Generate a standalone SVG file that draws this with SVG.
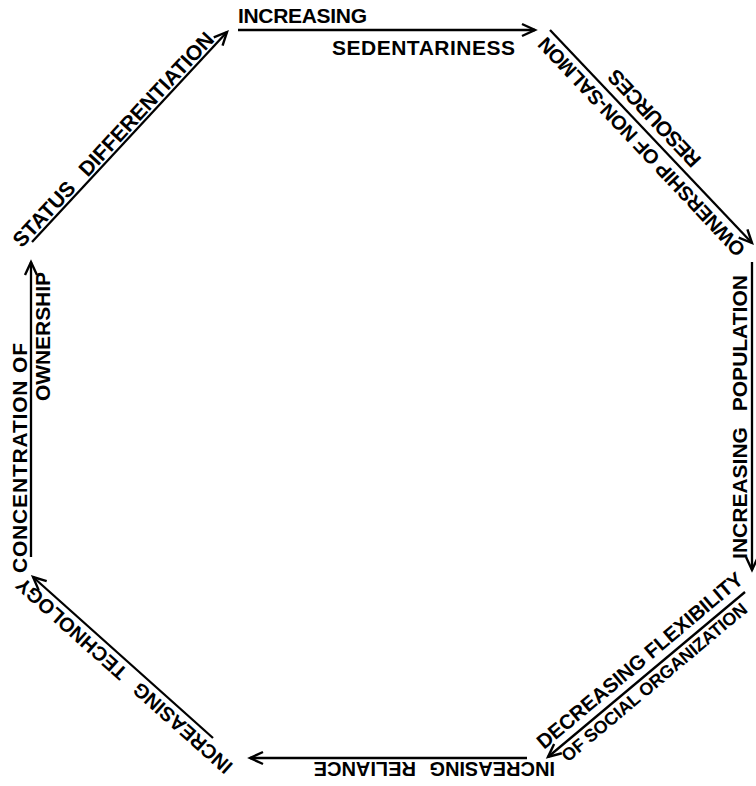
<svg xmlns="http://www.w3.org/2000/svg" width="756" height="786" viewBox="0 0 756 786">
<style>
.t{font-family:"Liberation Sans",Arial,Helvetica,sans-serif;font-weight:bold;font-size:21px;fill:#000}
.s{font-size:20px}
.c line{stroke:#000;stroke-width:2.3;fill:none;marker-end:url(#ah)}
</style>
<defs>
<marker id="ah" markerUnits="userSpaceOnUse" markerWidth="20" markerHeight="16" refX="15" refY="8" orient="auto" viewBox="0 0 20 16">
<path d="M2,2 L15,8 L2,14" fill="none" stroke="#000" stroke-width="2.4"/>
</marker>
</defs>
<rect width="756" height="786" fill="#fff"/>
<g id="connectors" class="c">
<line x1="238" y1="30" x2="535" y2="30"/>
<line x1="550" y1="30" x2="752" y2="243"/>
<line x1="752" y1="262" x2="752" y2="570"/>
<line x1="745" y1="592" x2="548" y2="757"/>
<line x1="527" y1="758" x2="250" y2="758"/>
<line x1="213" y1="738" x2="33" y2="577"/>
<line x1="31" y1="557" x2="31" y2="262"/>
<line x1="32" y1="242" x2="227" y2="32"/>
</g>
<g id="sedentariness">
<text class="t" x="238" y="23" textLength="129">INCREASING</text>
<text class="t" x="332" y="55" textLength="183">SEDENTARINESS</text>
</g>
<g id="ownership-resources" transform="translate(651,136.5) rotate(226.8)">
<text class="t s" x="-1" y="-7" text-anchor="middle" textLength="292">OWNERSHIP OF NON-SALMON</text>
<text class="t" x="11" y="22" text-anchor="middle" textLength="125">RESOURCES</text>
</g>
<g id="population" transform="translate(752,417) rotate(-90)">
<text class="t" x="0" y="-5" text-anchor="middle">INCREASING <tspan dx="10">POPULATION</tspan></text>
</g>
<g id="flexibility" transform="translate(646.5,674.5) rotate(-40)">
<text class="t" x="-127" y="-8" style="font-size:20.5px" textLength="262">DECREASING FLEXIBILITY</text>
<text class="t" x="-117" y="17" style="font-size:18px" textLength="236">OF SOCIAL ORGANIZATION</text>
</g>
<g id="reliance">
<text class="t s" transform="translate(555,762) rotate(180)">INCREASING <tspan dx="8">RELIANCE</tspan></text>
</g>
<g id="technology" transform="translate(123,657.5) rotate(221.8)">
<text class="t s" x="-13" y="-6" text-anchor="middle">INCREASING <tspan dx="10">TECHNOLOGY</tspan></text>
</g>
<g id="concentration">
<text class="t" transform="translate(27,573) rotate(-90)" textLength="230">CONCENTRATION OF</text>
<text class="t" transform="translate(50,401) rotate(-90)" textLength="129">OWNERSHIP</text>
</g>
<g id="status" transform="translate(129.5,137) rotate(-47.1)">
<text class="t" x="-155" y="-3">STATUS <tspan dx="10">DIFFERENTIATION</tspan></text>
</g>
</svg>
